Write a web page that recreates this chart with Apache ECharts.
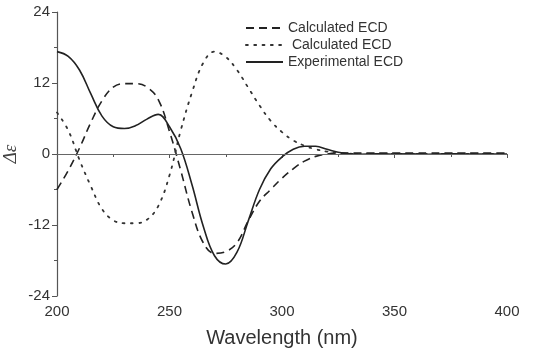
<!DOCTYPE html>
<html>
<head>
<meta charset="utf-8">
<script src="https://cdn.jsdelivr.net/npm/echarts@6/dist/echarts.min.js"></script>
<style>html,body{margin:0;padding:0;background:#fff}#c{width:550px;height:350px}</style>
</head>
<body>
<div id="c"></div>
<script>
var wavelength = [200,205,210,215,220,225,230,235,240,245,250,255,260,265,270,275,280,285,290,295,300,305,310,315,320,325,330,335,340,345,350,355,360,365,370,375,380,385,390,395,400];
var calcECD1 = [-6.0,-2.8,1.0,5.3,9.0,11.3,11.9,11.9,11.3,9.2,3.8,-2.8,-9.8,-15.0,-16.8,-16.5,-15.0,-11.3,-8.0,-6.0,-4.1,-2.5,-1.2,-0.4,0.0,0.15,0.15,0.15,0.15,0.15,0.15,0.15,0.15,0.15,0.15,0.15,0.15,0.15,0.15,0.15,0.15];
var calcECD2 = [7.0,4.0,-1.0,-5.4,-9.3,-11.2,-11.7,-11.7,-11.1,-8.8,-3.6,4.0,10.4,15.4,17.3,16.4,14.2,11.2,8.2,5.6,3.7,2.3,1.4,0.8,0.4,0.15,0.05,0,0,0,0,0,0,0,0,0,0,0,0,0,0];
var expECD = [17.3,16.5,14.2,10.2,6.4,4.6,4.3,4.8,5.9,6.7,4.6,0.9,-5.2,-12.2,-17.2,-18.6,-16.6,-11.3,-6.0,-2.5,-0.5,0.8,1.3,1.3,0.8,0.3,0.05,-0.05,0,0.05,-0.05,0.05,0,-0.05,0,0.05,0,0,0,0,0];
var xTicks = [200,250,300,350,400];
var yTicks = [-24,-12,0,12,24];
var names = ['Calculated ECD',' Calculated ECD','Experimental ECD'];

function pairs(v){ return wavelength.map(function(x,i){ return [x, v[i]]; }); }

var chart = echarts.init(document.getElementById('c'), null, {renderer:'canvas'});
var axisCol = '#555';
chart.setOption({
  animation:false,
  backgroundColor:'#fff',
  grid:{left:57, right:43, top:12, bottom:54, containLabel:false, outerBoundsMode:'none'},
  legend:{
    orient:'vertical', left:240, top:16, itemWidth:37, itemHeight:14, itemGap:3,
    data:names,
    itemStyle:{opacity:0},
    textStyle:{fontFamily:'Liberation Sans', fontSize:14, color:'#333'}
  },
  xAxis:{
    type:'value', min:xTicks[0], max:xTicks[xTicks.length-1], interval:50,
    name:'Wavelength (nm)', nameLocation:'middle', nameGap:32, nameMoveOverlap:false,
    nameTextStyle:{fontFamily:'Liberation Sans', fontSize:20, color:'#333'},
    axisLine:{show:true, lineStyle:{color:axisCol, width:1.2}},
    axisTick:{show:true, length:4, lineStyle:{color:axisCol}},
    minorTick:{show:true, splitNumber:2, length:3, lineStyle:{color:axisCol}},
    axisLabel:{fontFamily:'Liberation Sans', fontSize:15, color:'#333', margin:8},
    splitLine:{show:false}
  },
  yAxis:{
    type:'value', min:yTicks[0], max:yTicks[yTicks.length-1], interval:12,
    name:'\u0394\u03b5', nameLocation:'middle', nameGap:37, nameRotate:90, nameMoveOverlap:false,
    nameTextStyle:{fontFamily:'Liberation Serif', fontStyle:'italic', fontSize:19, color:'#444'},
    axisLine:{show:true, lineStyle:{color:axisCol, width:1.2}},
    axisTick:{show:true, length:5, lineStyle:{color:axisCol}},
    minorTick:{show:true, splitNumber:2, length:3, lineStyle:{color:axisCol}},
    axisLabel:{fontFamily:'Liberation Sans', fontSize:15, color:'#333', margin:7},
    splitLine:{show:false}
  },
  series:[
    {name:names[0], type:'line', data:pairs(calcECD1), smooth:0.4, symbol:'none', showSymbol:false,
     lineStyle:{color:'#222', width:1.6, type:[8,5]}, itemStyle:{color:'#222'},
     markLine:{silent:true, symbol:'none', label:{show:false}, animation:false,
       lineStyle:{color:'#666', width:1, type:'solid'}, data:[{yAxis:0}]}},
    {name:names[1], type:'line', data:pairs(calcECD2), smooth:0.4, symbol:'none', showSymbol:false,
     lineStyle:{color:'#333', width:1.8, type:[1.8,6.5], cap:'round'}, itemStyle:{color:'#333'}},
    {name:names[2], type:'line', data:pairs(expECD), smooth:0.4, symbol:'none', showSymbol:false,
     lineStyle:{color:'#222', width:1.6, type:'solid'}, itemStyle:{color:'#222'}}
  ]
});
</script>
</body>
</html>
